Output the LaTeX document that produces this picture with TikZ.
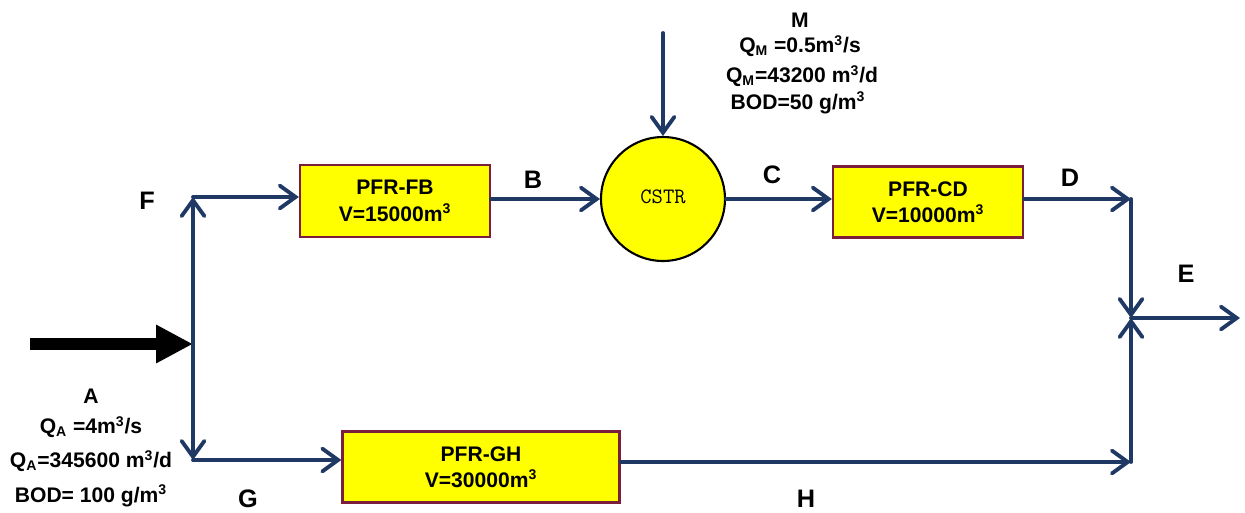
\documentclass[tikz,border=0pt]{standalone}
\usepackage{fontspec}
\setmainfont{Liberation Sans}
\usetikzlibrary{arrows.meta}
\definecolor{flow}{HTML}{1F3864}
\definecolor{boxedge}{HTML}{7B1E3C}
\definecolor{boxfill}{HTML}{FFFF00}
\tikzset{
  flowline/.style={draw=flow, line width=2.2pt, line cap=round, -{Straight Barb[length=9pt,width=13pt,line cap=round]}},
  reactor/.style={draw=boxedge, line width=1.3pt, fill=boxfill, font=\bfseries\large, align=center, inner sep=0pt},
  lbl/.style={font=\bfseries\Large, inner sep=0pt},
  info/.style={font=\bfseries\large, align=center, inner sep=0pt}
}
\begin{document}
\begin{tikzpicture}[x=0.02cm,y=-0.02cm]
\useasboundingbox (0,0) rectangle (1245,512);
% reactors
\node[reactor, minimum width=3.8cm, minimum height=1.44cm] (fb) at (395,201) {PFR-FB\\[1pt]V=15000m\textsuperscript{3}};
\node[draw=black, line width=1.2pt, fill=boxfill, circle, minimum size=2.48cm, inner sep=0pt, font=\ttfamily\fontsize{12.5}{14}\selectfont] (cstr) at (663,199) {\raisebox{3pt}{CSTR}};
\node[reactor, minimum width=3.8cm, minimum height=1.42cm] (cd) at (928,202) {PFR-CD\\[1pt]V=10000m\textsuperscript{3}};
\node[reactor, minimum width=5.54cm, minimum height=1.42cm] (gh) at (481,467) {PFR-GH\\[1pt]V=30000m\textsuperscript{3}};
% junction coordinates
\coordinate (ain) at (30,344);
\coordinate (split) at (193,344);
\coordinate (ftop) at (193,197);
\coordinate (gbot) at (193,460);
\coordinate (dend) at (1131,199);
\coordinate (hend) at (1131,462);
\coordinate (merge) at (1131,318);
\coordinate (eout) at (1240,318);
\coordinate (mtop) at (663,33);
% feed arrow
\draw[line width=6.8pt, -{Triangle[length=0.74cm,width=0.72cm]}] (ain) -- (split);
% split
\draw[flowline] (split) -- (ftop);
\draw[flowline] (split) -- (gbot);
\draw[flowline] (ftop) -- (fb.west |- ftop);
\draw[flowline] (gbot) -- (gh.west |- gbot);
% top line
\draw[flowline] (cstr.west -| fb.east) -- (cstr.west);
\draw[flowline] (mtop) -- (cstr.north);
\draw[flowline] (cstr.east) -- (cd.west |- cstr.east);
\draw[flowline] (cd.east |- dend) -- (dend);
% bottom line
\draw[flowline] (gh.east |- hend) -- (hend);
% merge
\draw[flowline] (dend) -- (merge);
\draw[flowline] (hend) -- (merge);
\draw[flowline] (merge) -- (eout);
% labels
\node[lbl] (lF) at (147,201) {F};
\node[lbl] (lB) at (533,180) {B};
\node[lbl] (lC) at (772,175) {C};
\node[lbl] (lD) at (1070,178) {D};
\node[lbl] (lE) at (1186,274) {E};
\node[lbl] (lG) at (248,499) {G};
\node[lbl] (lH) at (806,499) {H};
% info texts
\node[info] (mM) at (800,20) {M};
\node[info] (mQ1) at (800,46) {Q\textsubscript{M} =0.5m\textsuperscript{3}/s};
\node[info] (mQ2) at (802,76) {Q\textsubscript{M}=43200 m\textsuperscript{3}/d};
\node[info] (mB) at (798,103) {BOD=50 g/m\textsuperscript{3}};
\node[info] (aA) at (91,396) {A};
\node[info] (aQ1) at (91,427) {Q\textsubscript{A} =4m\textsuperscript{3}/s};
\node[info] (aQ2) at (91,461) {Q\textsubscript{A}=345600 m\textsuperscript{3}/d};
\node[info] (aB) at (91,496) {BOD= 100 g/m\textsuperscript{3}};
\end{tikzpicture}
\end{document}
